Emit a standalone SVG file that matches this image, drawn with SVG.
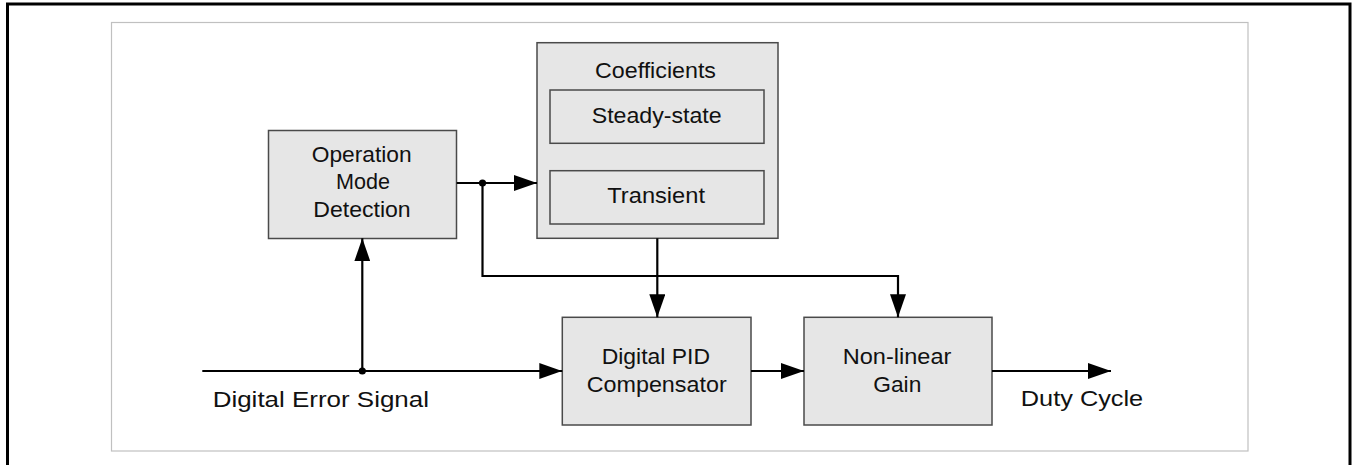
<svg xmlns="http://www.w3.org/2000/svg" width="1353" height="465" viewBox="0 0 1353 465">
<defs>
<style>
.box{fill:#e6e6e6;stroke:#4a4a4a;stroke-width:1.5}
.t{font-family:"Liberation Sans",Arial,sans-serif;font-size:21.5px;fill:#111;text-anchor:start}
.w{fill:none;stroke:#000;stroke-width:2.2}
</style>
<marker id="ah" viewBox="0 0 23 16" refX="23" refY="8" markerWidth="23" markerHeight="16" markerUnits="userSpaceOnUse" orient="auto">
<path d="M0,0 L23,8 L0,16 Z" fill="#000"/>
</marker>
</defs>
<rect width="1353" height="465" fill="#fff"/>
<path d="M7.5,470 V4 H1350 V470" fill="none" stroke="#000" stroke-width="3"/>
<rect x="111.5" y="22.5" width="1136.5" height="428.5" fill="none" stroke="#c0c0c0" stroke-width="1.2"/>

<g id="omd">
<rect class="box" x="268.5" y="130.5" width="188" height="108"/>
<text class="t" x="311.7" y="161.7" textLength="100" lengthAdjust="spacingAndGlyphs">Operation</text>
<text class="t" x="336" y="189.3" textLength="54" lengthAdjust="spacingAndGlyphs">Mode</text>
<text class="t" x="313.3" y="217.3" textLength="97.4" lengthAdjust="spacingAndGlyphs">Detection</text>
</g>

<g id="coefficients">
<rect class="box" x="537" y="42.7" width="241" height="195.6"/>
<text class="t" x="595" y="77.7" textLength="121" lengthAdjust="spacingAndGlyphs">Coefficients</text>
<g id="steady">
<rect class="box" x="550" y="90" width="214" height="53.3"/>
<text class="t" x="591.7" y="123.3" textLength="130" lengthAdjust="spacingAndGlyphs">Steady-state</text>
</g>
<g id="transient">
<rect class="box" x="550" y="170.7" width="214" height="53.3"/>
<text class="t" x="607.3" y="203.3" textLength="97.7" lengthAdjust="spacingAndGlyphs">Transient</text>
</g>
</g>

<g id="pid">
<rect class="box" x="562.3" y="317.3" width="188.7" height="107.7"/>
<text class="t" x="601.7" y="364" textLength="108.3" lengthAdjust="spacingAndGlyphs">Digital PID</text>
<text class="t" x="586.7" y="391.7" textLength="140" lengthAdjust="spacingAndGlyphs">Compensator</text>
</g>

<g id="nlgain">
<rect class="box" x="804" y="317.3" width="188" height="107.7"/>
<text class="t" x="842.8" y="364" textLength="108.5" lengthAdjust="spacingAndGlyphs">Non-linear</text>
<text class="t" x="873.3" y="391.7" textLength="48" lengthAdjust="spacingAndGlyphs">Gain</text>
</g>

<g id="labels">
<text class="t" x="212.7" y="407.3" textLength="216.3" lengthAdjust="spacingAndGlyphs">Digital Error Signal</text>
<text class="t" x="1020.8" y="405.7" textLength="122.4" lengthAdjust="spacingAndGlyphs">Duty Cycle</text>
</g>

<g id="connectors">
<line class="w" x1="202.3" y1="371" x2="562.3" y2="371" marker-end="url(#ah)"/>
<line class="w" x1="362.3" y1="371" x2="362.3" y2="238.3" marker-end="url(#ah)"/>
<line class="w" x1="456.7" y1="183" x2="537" y2="183" marker-end="url(#ah)"/>
<polyline class="w" points="482.5,183 482.5,276 898,276 898,317.3" marker-end="url(#ah)"/>
<line class="w" x1="657.3" y1="238.3" x2="657.3" y2="317.3" marker-end="url(#ah)"/>
<line class="w" x1="751" y1="371" x2="804" y2="371" marker-end="url(#ah)"/>
<line class="w" x1="992" y1="371" x2="1111" y2="371" marker-end="url(#ah)"/>
<circle cx="362.3" cy="371" r="3.6" fill="#000"/>
<circle cx="482.5" cy="183" r="3.6" fill="#000"/>
</g>
</svg>
